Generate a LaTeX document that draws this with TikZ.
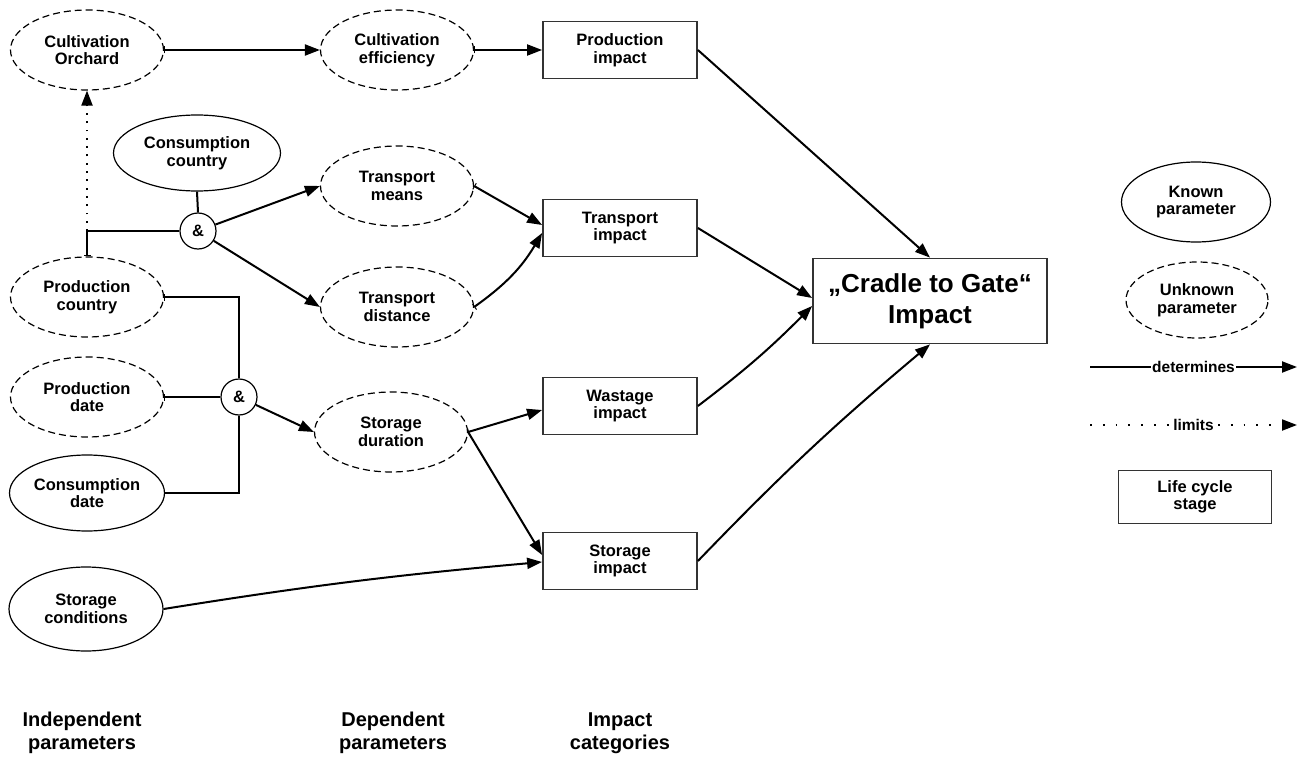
\documentclass[tikz,border=0pt]{standalone}
\usepackage{fontspec}
\setmainfont{Liberation Sans}
\usetikzlibrary{shapes.geometric,arrows.meta}
\newcommand\nf{\fontsize{16.5}{17.5}\selectfont\bfseries}
\newcommand\bl{\fontsize{20}{23}\selectfont\bfseries}
\newcommand\cf{\fontsize{26}{31}\selectfont\bfseries}
\newcommand\lf{\fontsize{15.5}{17}\selectfont\bfseries}
\begin{document}
\begin{tikzpicture}[x=1pt,y=-1pt,
  every node/.style={font=\nf, align=center},
  known/.style={ellipse, draw, line width=1.2pt, minimum width=153pt, minimum height=80pt, inner sep=0pt},
  unknown/.style={known, dash pattern=on 7pt off 4pt},
  stage/.style={rectangle, draw=black!80, line width=1.8pt, minimum width=154pt, minimum height=57pt, inner sep=0pt},
  andnode/.style={circle, draw, line width=1.2pt, minimum size=36pt, inner sep=0pt},
  conn/.style={line width=2pt, -{Triangle[length=15pt,width=11pt]}},
  tconn/.style={line width=2pt, {Bar[width=7pt,line width=1pt]}-{Triangle[length=15pt,width=11pt]}},
  solidline/.style={line width=2pt},
  tline/.style={line width=2pt, {Bar[width=7pt,line width=1pt]}-},
  lim/.style={line width=2pt, dash pattern=on 1.8pt off 6.5pt, -{Triangle[length=15pt,width=11pt]}},
  collabel/.style={font=\bl, inner sep=0pt}
]
\useasboundingbox[fill=white] (0,0) rectangle (1299,757);

% independent parameters
\node[unknown] (co) at (87,50) {Cultivation\\Orchard};
\node[known, minimum width=167pt, minimum height=76pt] (cc) at (197,153) {Consumption\\country};
\node[unknown] (pc) at (87,297) {Production\\country};
\node[unknown] (pd) at (87,397) {Production\\date};
\node[known, minimum width=155pt, minimum height=76pt] (cd) at (87,493) {Consumption\\date};
\node[known, minimum width=154pt, minimum height=84pt] (sc) at (86,609) {Storage\\conditions};

% and nodes
\node[andnode] (a1) at (198,231) {\&};
\node[andnode] (a2) at (239,397) {\&};

% dependent parameters
\node[unknown] (ce) at (397,50) {Cultivation\\efficiency};
\node[unknown] (tm) at (397,186) {Transport\\means};
\node[unknown] (td) at (397,307) {Transport\\distance};
\node[unknown] (sd) at (391,432) {Storage\\duration};

% impact categories
\node[stage] (pi) at (620,50) {Production\\impact};
\node[stage] (ti) at (620,228) {Transport\\impact};
\node[stage] (wi) at (620,406) {Wastage\\impact};
\node[stage] (si) at (620,561) {Storage\\impact};

% total
\node[stage, minimum width=234pt, minimum height=85pt, font=\cf] (cg) at (930,301) {„Cradle to Gate“\\Impact};

% connectors
\coordinate (j1) at (87,231);
\coordinate (j2) at (239,297);
\coordinate (j3) at (239,493);

\draw[tconn] (co.east) -- (ce.west);
\draw[tconn] (ce.east) -- (pi.west);
\draw[tline] (pc.north) -- (j1) -- (a1.west);
\draw[lim] (j1) -- (co.south);
\draw[solidline] (cc.south) -- (a1.north);
\draw[conn] (a1) -- (tm.west);
\draw[conn] (a1) -- (td.west);
\draw[tconn] (tm.east) -- ([yshift=3pt]ti.west);
\draw[tconn] (td.east) to[bend right=12] ([yshift=-5pt]ti.west);
\draw[tline] (pc.east) -- (j2) -- (a2.north);
\draw[tline] (pd.east) -- (a2.west);
\draw[solidline] (cd.east) -- (j3) -- (a2.south);
\draw[conn] (a2) -- (sd.west);
\draw[tconn] (sd.east) -- ([yshift=-4pt]wi.west);
\draw[conn] (sd.east) -- ([yshift=6pt]si.west);
\draw[conn] (sc.east) to[bend left=2] ([yshift=-1pt]si.west);

\draw[conn] (pi.east) -- (cg.north);
\draw[conn] (ti.east) -- ([yshift=3pt]cg.west);
\draw[conn] (wi.east) to[bend right=4] ([yshift=-5pt]cg.west);
\draw[conn] (si.east) to[bend left=3] (cg.south);

% legend
\node[known, minimum width=149pt, minimum height=80pt] (lk) at (1196,202) {Known\\parameter};
\node[unknown, minimum width=142pt, minimum height=76pt] (lu) at (1197,300) {Unknown\\parameter};
\coordinate (d1) at (1090,367);
\coordinate (d2) at (1297,367);
\draw[conn] (d1) -- node[fill=white, inner sep=1pt, font=\lf] {determines} (d2);
\coordinate (l1) at (1090,425);
\coordinate (l2) at (1297,425);
\draw[line width=2pt, dash pattern=on 1.8pt off 11pt, -{Triangle[length=15pt,width=11pt]}] (l1) -- node[fill=white, inner sep=2pt, font=\lf] {limits} (l2);
\node[stage, minimum width=153pt, minimum height=53pt] (ls) at (1195,497) {Life cycle\\stage};

% column labels
\node[collabel] (c1) at (82,733) {Independent\\parameters};
\node[collabel] (c2) at (393,733) {Dependent\\parameters};
\node[collabel] (c3) at (620,733) {Impact\\categories};
\end{tikzpicture}
\end{document}
